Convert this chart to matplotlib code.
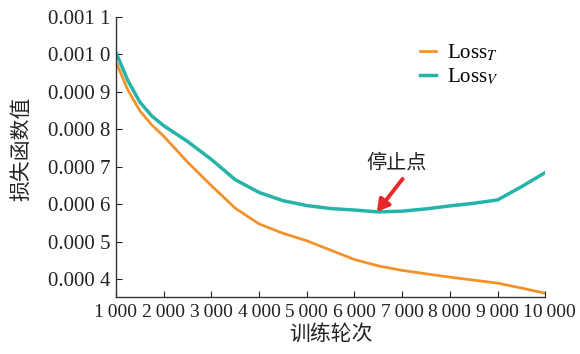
import numpy as np
import matplotlib.pyplot as plt
import matplotlib.transforms as mtransforms

# values
epochs = [1000, 1250, 1500, 1750, 2000, 2500, 3000, 3500, 4000, 4500, 5000,
          5500, 6000, 6500, 7000, 7500, 8000, 8500, 9000, 9500, 10000]
loss_t = [0.000980, 0.000905, 0.000850, 0.000812, 0.000782, 0.000713, 0.000650,
          0.000590, 0.000548, 0.000523, 0.000503, 0.000478, 0.000453, 0.000436,
          0.000424, 0.000415, 0.000406, 0.000398, 0.000390, 0.000377, 0.000363]
loss_v = [0.001005, 0.000930, 0.000873, 0.000836, 0.000810, 0.000768, 0.000720,
          0.000666, 0.000632, 0.000610, 0.000597, 0.000589, 0.000585, 0.000580,
          0.000582, 0.000588, 0.000596, 0.000603, 0.000612, 0.000647, 0.000685]

xticks = [1000, 2000, 3000, 4000, 5000, 6000, 7000, 8000, 9000, 10000]
xtick_labels = ['1\u2009000', '2\u2009000', '3\u2009000', '4\u2009000', '5\u2009000',
                '6\u2009000', '7\u2009000', '8\u2009000', '9\u2009000', '10\u2009000']
yticks = [0.0004, 0.0005, 0.0006, 0.0007, 0.0008, 0.0009, 0.0010, 0.0011]
ytick_labels = ['0.000 4', '0.000 5', '0.000 6', '0.000 7', '0.000 8',
                '0.000 9', '0.001 0', '0.001 1']
stop_epoch, stop_loss = 6470, 0.000580

plt.rcParams['font.family'] = ['Liberation Serif', 'DejaVu Serif', 'Noto Sans CJK SC']
plt.rcParams['mathtext.fontset'] = 'stix'

fig = plt.figure(figsize=(5.8, 3.54), dpi=100)
ax = fig.add_axes([0.2, 0.161, 0.74, 0.791])

ax.plot(epochs, loss_t, color='#F3922B', lw=2.0, label=r'Loss$_{T}$')
ax.plot(epochs, loss_v, color='#26B3AA', lw=2.5, label=r'Loss$_{V}$')

ax.set_xlim(1000, 10000)
ax.set_ylim(0.000353, 0.0011)
ax.set_xticks(xticks)
ax.set_xticklabels(xtick_labels)
ax.set_yticks(yticks)
ax.set_yticklabels(ytick_labels)
ax.tick_params(direction='in', length=4, width=0.8, labelsize=15, colors='#222222')
ax.tick_params(axis='x', labelsize=14, pad=5)
ax.tick_params(axis='y', pad=4)

# nudge the last x label a little so it does not run into "9 000"
last = ax.get_xticklabels()[-1]
last.set_transform(last.get_transform() +
                   mtransforms.ScaledTranslation(3 / 72, 0, fig.dpi_scale_trans))

for s in ['top', 'right']:
    ax.spines[s].set_visible(False)
for s in ['left', 'bottom']:
    ax.spines[s].set_linewidth(1.0)
    ax.spines[s].set_color('#333333')

ax.set_xlabel('训练轮次', family='Noto Sans CJK SC', fontsize=15, color='#222222', labelpad=1)
ax.set_ylabel('损失函数值', family='Noto Sans CJK SC', fontsize=15, color='#222222')
ax.yaxis.set_label_coords(-0.196, 0.53)

ax.text(6890, 0.000711, '停止点', ha='center', va='center',
        family='Noto Sans CJK SC', fontsize=14.5, color='#222222')
ax.annotate('', xy=(stop_epoch, stop_loss), xytext=(7010, 0.000668),
            arrowprops=dict(arrowstyle='-|>,head_length=0.7,head_width=0.4',
                            color='#E8262A', lw=2.8, shrinkA=0, shrinkB=0))

ax.legend(loc='upper right', bbox_to_anchor=(0.935, 0.975), frameon=False,
          fontsize=15, handlelength=0.8, handletextpad=0.5, labelspacing=0.15)

fig.savefig('out.png', dpi=100)
